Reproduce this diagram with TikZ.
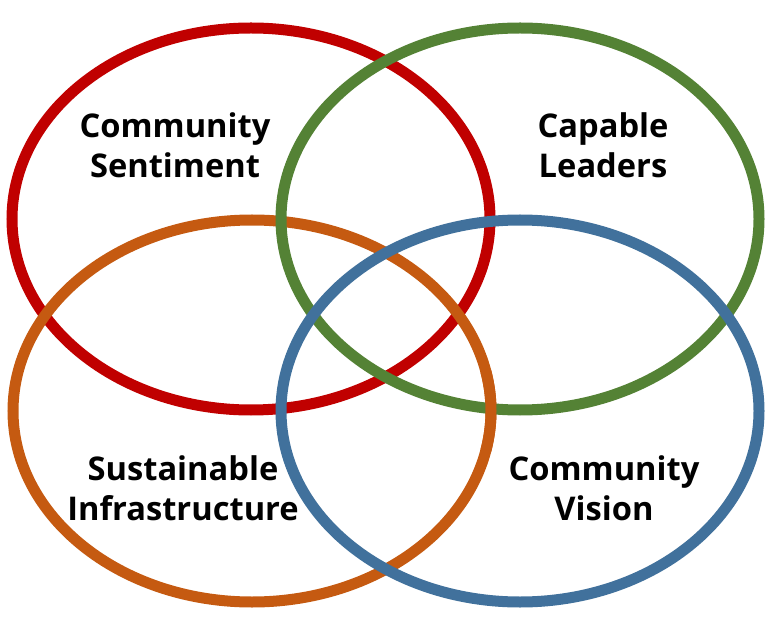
\documentclass[tikz,border=0pt]{standalone}
\usepackage{fontspec}
\setmainfont{Open Sans}
\definecolor{ringred}{RGB}{192, 0, 0}
\definecolor{ringgreen}{RGB}{84, 130, 53}
\definecolor{ringorange}{RGB}{197, 90, 17}
\definecolor{ringblue}{RGB}{65, 113, 156}

\begin{document}
\begin{tikzpicture}[
    x=0.75pt, y=-0.75pt,
    ring/.style={draw=#1, line width=8.25pt},
    ring/.default=black,
    venntext/.style={align=center, font=\bfseries\fontsize{24.5}{30}\selectfont}
]
    \useasboundingbox (0,0) rectangle (771,620);

    % ==========================================
    % CENTRES
    % ==========================================
    \coordinate (sentiment_c) at (251, 219);
    \coordinate (leaders_c)   at (520, 219);
    \coordinate (infra_c)     at (252, 411);
    \coordinate (vision_c)    at (520, 411);

    % ==========================================
    % RINGS (red, orange, green, blue)
    % ==========================================
    \draw[ring=ringred]    (sentiment_c) ellipse [x radius=179.25pt, y radius=143.25pt];
    \draw[ring=ringorange] (infra_c)     ellipse [x radius=179.25pt, y radius=143.25pt];
    \draw[ring=ringgreen]  (leaders_c)   ellipse [x radius=179.25pt, y radius=143.25pt];
    \draw[ring=ringblue]   (vision_c)    ellipse [x radius=179.25pt, y radius=143.25pt];

    % orange passes over green on the right
    \draw[ring=ringorange] ([shift={(-12:179.25pt and 143.25pt)}]infra_c)
        arc[start angle=-12, end angle=12, x radius=179.25pt, y radius=143.25pt];

    % ==========================================
    % LABELS
    % ==========================================
    \node[venntext] (sentiment) at (175, 145) {Community\\Sentiment};
    \node[venntext] (leaders)   at (603, 145) {Capable\\Leaders};
    \node[venntext] (infra)     at (183, 488) {Sustainable\\Infrastructure};
    \node[venntext] (vision)    at (604, 488) {Community\\Vision};

\end{tikzpicture}
\end{document}
